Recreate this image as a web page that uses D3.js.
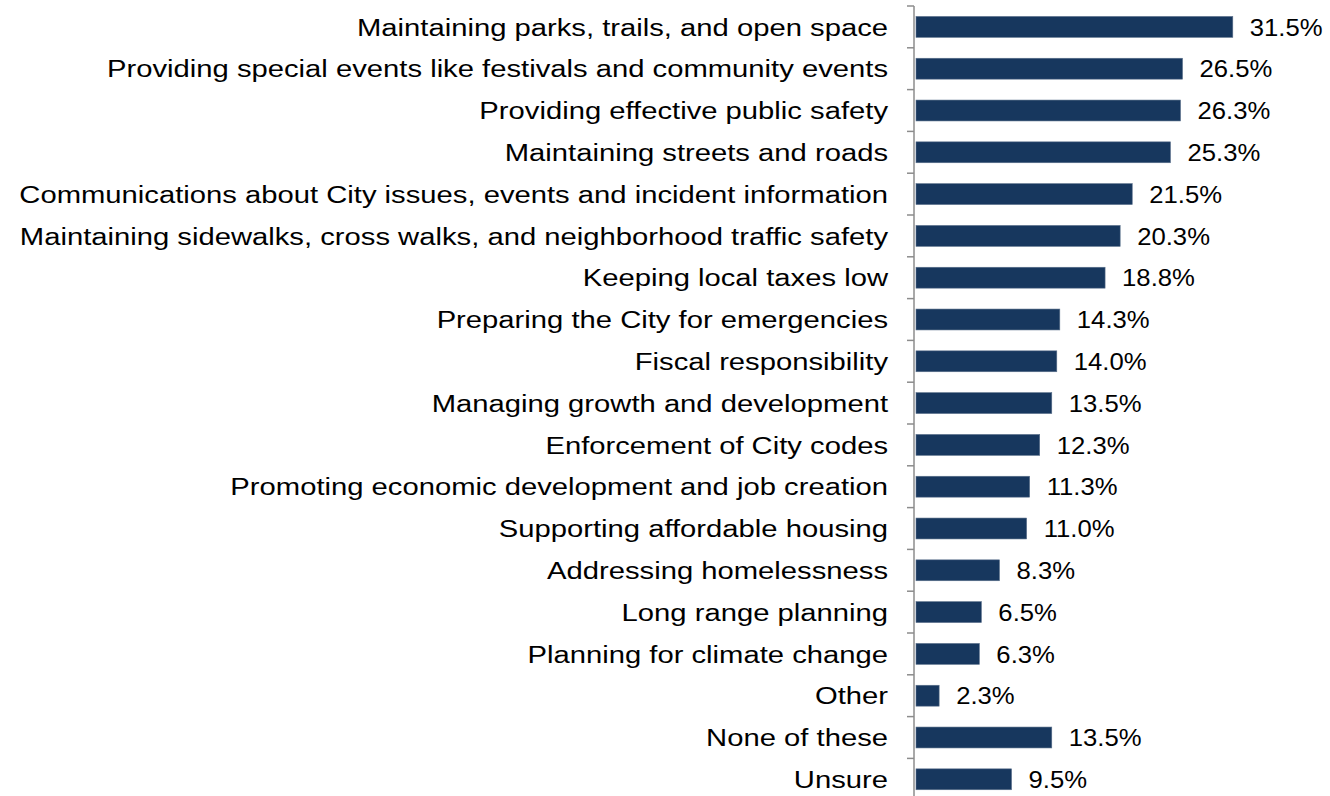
<!DOCTYPE html>
<html><head><meta charset="utf-8">
<script src="https://cdn.jsdelivr.net/npm/d3@7"></script>
<style>body{margin:0;background:#fff}svg{display:block}</style>
</head><body>
<svg id="chart" width="1330" height="796"></svg>
<script>
const categories = [
  "Maintaining parks, trails, and open space",
  "Providing special events like festivals and community events",
  "Providing effective public safety",
  "Maintaining streets and roads",
  "Communications about City issues, events and incident information",
  "Maintaining sidewalks, cross walks, and neighborhood traffic safety",
  "Keeping local taxes low",
  "Preparing the City for emergencies",
  "Fiscal responsibility",
  "Managing growth and development",
  "Enforcement of City codes",
  "Promoting economic development and job creation",
  "Supporting affordable housing",
  "Addressing homelessness",
  "Long range planning",
  "Planning for climate change",
  "Other",
  "None of these",
  "Unsure"
];
const values = [31.5, 26.5, 26.3, 25.3, 21.5, 20.3, 18.8, 14.3, 14.0, 13.5, 12.3, 11.3, 11.0, 8.3, 6.5, 6.3, 2.3, 13.5, 9.5];

const svg = d3.select("#chart");
const axisX = 914;
const x = d3.scaleLinear().domain([0, 35]).range([916, 916 + 352]);
const y = d3.scaleBand().domain(categories).range([6, 800.2]).paddingInner(0.5).paddingOuter(0.25);

// bars
svg.append("g").selectAll("rect").data(values).join("rect")
  .attr("x", x(0))
  .attr("y", (d, i) => y(categories[i]))
  .attr("width", d => x(d) - x(0))
  .attr("height", y.bandwidth())
  .attr("fill", "#17375e")
  .attr("stroke", "#5a6f8a")
  .attr("stroke-width", 0.6);

// axis
const band = d3.scaleBand().domain(categories).range([6, 800.2]);
const ag = svg.append("g");
ag.append("line").attr("x1", axisX).attr("x2", axisX).attr("y1", 6).attr("y2", 800)
  .attr("stroke", "#8c8c8c").attr("stroke-width", 1.5);
ag.selectAll("line.tick").data(categories).join("line").attr("class", "tick")
  .attr("x1", axisX - 7).attr("x2", axisX)
  .attr("y1", d => band(d)).attr("y2", d => band(d))
  .attr("stroke", "#8c8c8c").attr("stroke-width", 1.5);

// category labels
const lg = svg.append("g").attr("transform", "translate(888,0) scale(1.183,1)");
lg.selectAll("text").data(categories).join("text")
  .attr("x", 0)
  .attr("y", d => y(d) + y.bandwidth() / 2)
  .attr("dy", "0.35em")
  .attr("text-anchor", "end")
  .attr("font-family", "Liberation Sans, Arial, sans-serif")
  .attr("font-size", 24.7)
  .attr("fill", "#000")
  .text(d => d);

// value labels
svg.append("g").selectAll("text").data(values).join("text")
  .attr("transform", (d, i) => `translate(${x(d) + 17},${y(categories[i]) + y.bandwidth() / 2}) scale(1.04,1)`)
  .attr("dy", "0.35em")
  .attr("font-family", "Liberation Sans, Arial, sans-serif")
  .attr("font-size", 24.7)
  .attr("fill", "#000")
  .text(d => d.toFixed(1) + "%");
</script>
</body></html>
